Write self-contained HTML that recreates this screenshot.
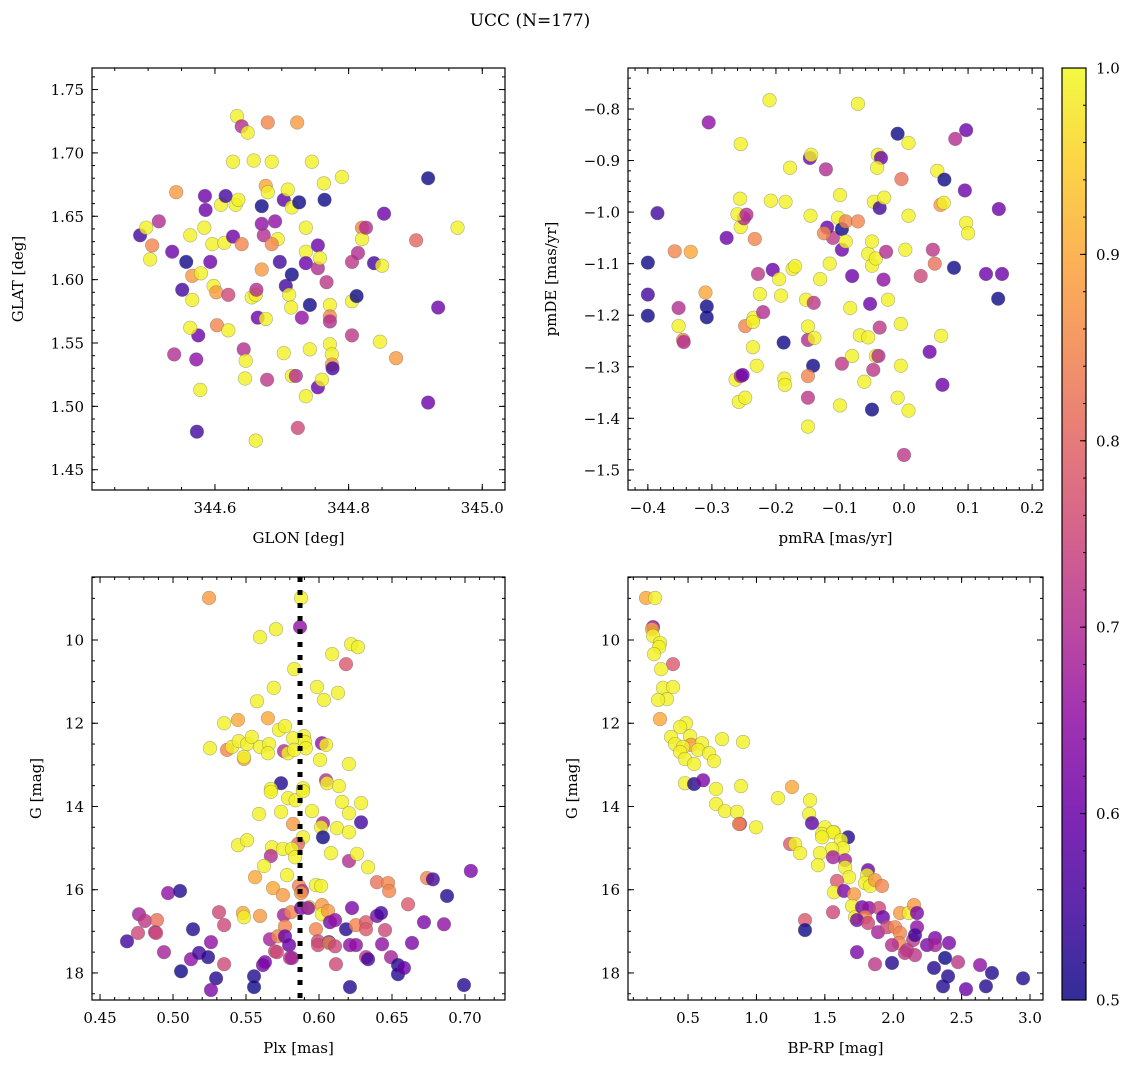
<!DOCTYPE html>
<html><head><meta charset="utf-8">
<style>
html,body{margin:0;padding:0;background:#fff;}
svg{display:block;font-family:"DejaVu Serif","Liberation Serif",serif;}
</style></head>
<body>
<svg id="fig" width="1136" height="1067" viewBox="0 0 1136 1067" xmlns="http://www.w3.org/2000/svg">
<text x="530" y="26" text-anchor="middle" font-size="17">UCC (N=177)</text>
</svg>
<script>
// ---- data: [x, y, membership probability] ----
const skyPoints = [
[344.633,1.729,0.99],[344.640,1.721,0.7],[344.649,1.716,0.99],[344.679,1.724,0.85],[344.723,1.724,0.88],
[344.627,1.693,0.99],[344.658,1.694,0.99],[344.685,1.693,0.99],[344.745,1.693,0.99],
[344.488,1.635,0.55],[344.497,1.641,0.99],[344.506,1.627,0.85],[344.503,1.616,0.99],[344.516,1.646,0.7],
[344.542,1.669,0.88],[344.536,1.622,0.6],[344.551,1.592,0.55],[344.557,1.614,0.5],[344.566,1.584,0.99],
[344.563,1.635,0.99],[344.566,1.603,0.88],[344.579,1.605,0.99],[344.575,1.556,0.6],[344.572,1.537,0.65],
[344.573,1.480,0.55],[344.578,1.513,0.99],[344.539,1.541,0.7],[344.563,1.562,0.99],[344.585,1.666,0.6],
[344.586,1.655,0.6],[344.584,1.641,0.99],[344.596,1.628,0.99],[344.593,1.614,0.6],[344.598,1.595,0.99],
[344.602,1.590,0.88],[344.620,1.588,0.75],[344.603,1.564,0.85],[344.620,1.560,0.99],[344.609,1.659,0.99],
[344.614,1.629,0.99],[344.627,1.634,0.6],[344.640,1.628,0.85],[344.616,1.666,0.55],[344.631,1.659,0.99],
[344.635,1.663,0.99],[344.643,1.545,0.7],[344.646,1.536,0.99],[344.645,1.522,0.99],[344.655,1.586,0.99],
[344.661,1.588,0.99],[344.662,1.592,0.7],[344.664,1.570,0.6],[344.661,1.473,0.99],[344.678,1.521,0.72],
[344.670,1.658,0.5],[344.670,1.644,0.65],[344.676,1.674,0.9],[344.679,1.669,0.99],[344.673,1.635,0.7],
[344.670,1.608,0.88],[344.676,1.569,0.99],[344.690,1.646,0.65],[344.694,1.632,0.99],[344.685,1.628,0.85],
[344.697,1.614,0.55],[344.703,1.663,0.58],[344.709,1.671,0.99],[344.715,1.657,0.99],[344.706,1.595,0.55],
[344.715,1.604,0.5],[344.711,1.588,0.99],[344.714,1.578,0.99],[344.703,1.542,0.99],[344.715,1.524,0.99],
[344.721,1.524,0.7],[344.726,1.661,0.5],[344.736,1.641,0.99],[344.736,1.622,0.99],[344.736,1.613,0.6],
[344.730,1.570,0.65],[344.742,1.545,0.99],[344.736,1.508,0.99],[344.724,1.483,0.75],[344.754,1.627,0.6],
[344.754,1.609,0.7],[344.757,1.617,0.99],[344.763,1.676,0.99],[344.764,1.663,0.5],[344.754,1.515,0.6],
[344.760,1.521,0.99],[344.767,1.598,0.72],[344.742,1.580,0.5],[344.772,1.580,0.99],[344.772,1.571,0.85],
[344.772,1.567,0.7],[344.772,1.549,0.99],[344.775,1.541,0.99],[344.775,1.533,0.88],[344.776,1.530,0.55],
[344.805,1.614,0.72],[344.805,1.583,0.99],[344.812,1.587,0.5],[344.805,1.556,0.72],[344.790,1.681,0.99],
[344.820,1.641,0.85],[344.820,1.632,0.99],[344.814,1.621,0.7],[344.826,1.641,0.7],[344.838,1.613,0.55],
[344.853,1.652,0.6],[344.850,1.611,0.99],[344.847,1.551,0.99],[344.871,1.538,0.88],[344.901,1.631,0.8],
[344.919,1.680,0.5],[344.919,1.503,0.6],[344.934,1.578,0.6],[344.963,1.641,0.99]
];
const pmPoints = [
[-0.400,-1.160,0.55],[-0.358,-1.076,0.85],[-0.400,-1.098,0.5],[-0.400,-1.201,0.5],[-0.385,-1.002,0.55],
[-0.333,-1.077,0.9],[-0.352,-1.186,0.7],[-0.352,-1.221,0.99],[-0.345,-1.248,0.85],[-0.344,-1.252,0.7],
[-0.310,-1.156,0.9],[-0.305,-0.826,0.65],[-0.308,-1.183,0.5],[-0.308,-1.204,0.5],[-0.277,-1.050,0.6],
[-0.255,-1.029,0.99],[-0.256,-0.974,0.99],[-0.250,-1.012,0.7],[-0.255,-0.868,0.99],[-0.260,-1.004,0.99],
[-0.225,-1.159,0.99],[-0.263,-1.325,0.99],[-0.258,-1.368,0.99],[-0.248,-1.360,0.99],[-0.255,-1.318,0.7],
[-0.252,-1.316,0.6],[-0.235,-1.205,0.99],[-0.246,-1.005,0.7],[-0.228,-1.120,0.72],[-0.233,-1.052,0.85],
[-0.248,-1.221,0.85],[-0.236,-1.213,0.99],[-0.236,-1.262,0.99],[-0.230,-1.298,0.99],[-0.220,-1.194,0.7],
[-0.205,-1.112,0.6],[-0.210,-0.783,0.99],[-0.208,-0.978,0.99],[-0.185,-0.980,0.99],[-0.188,-1.253,0.5],
[-0.192,-1.162,0.99],[-0.178,-0.914,0.99],[-0.195,-1.130,0.99],[-0.153,-1.170,0.99],[-0.150,-1.248,0.7],
[-0.142,-1.298,0.5],[-0.187,-1.323,0.99],[-0.186,-1.335,0.99],[-0.150,-1.360,0.72],[-0.174,-1.110,0.99],
[-0.170,-1.105,0.99],[-0.141,-1.176,0.72],[-0.131,-1.130,0.99],[-0.150,-1.222,0.99],[-0.140,-1.244,0.99],
[-0.147,-0.895,0.6],[-0.145,-0.889,0.99],[-0.122,-0.917,0.7],[-0.146,-1.007,0.99],[-0.150,-1.318,0.85],
[-0.150,-1.416,0.99],[-0.116,-1.100,0.99],[-0.111,-1.050,0.72],[-0.120,-1.030,0.6],[-0.103,-1.011,0.99],
[-0.097,-1.033,0.5],[-0.097,-1.073,0.6],[-0.091,-1.057,0.99],[-0.091,-1.018,0.85],[-0.125,-1.041,0.85],
[-0.097,-1.294,0.72],[-0.081,-1.124,0.6],[-0.081,-1.279,0.99],[-0.084,-1.186,0.99],[-0.100,-0.967,0.99],
[-0.072,-1.018,0.85],[-0.100,-1.375,0.99],[-0.069,-1.239,0.99],[-0.056,-1.243,0.99],[-0.062,-1.329,0.99],
[-0.053,-1.178,0.6],[-0.048,-1.306,0.72],[-0.044,-1.279,0.99],[-0.072,-0.790,0.99],[-0.056,-1.081,0.99],
[-0.050,-1.104,0.99],[-0.044,-1.090,0.99],[-0.047,-0.980,0.99],[-0.038,-0.992,0.55],[-0.031,-0.972,0.99],
[-0.050,-1.383,0.5],[-0.041,-0.889,0.99],[-0.036,-0.895,0.6],[-0.042,-0.914,0.99],[-0.028,-1.077,0.7],
[-0.032,-1.131,0.65],[-0.038,-1.224,0.72],[-0.040,-1.279,0.7],[-0.050,-1.057,0.99],[-0.025,-1.170,0.99],
[-0.010,-0.848,0.5],[-0.010,-1.360,0.99],[-0.005,-1.298,0.99],[-0.004,-0.936,0.82],[-0.005,-1.217,0.99],
[0.000,-1.471,0.72],[0.007,-0.866,0.99],[0.007,-1.007,0.99],[0.002,-1.073,0.99],[0.007,-1.385,0.99],
[0.026,-1.124,0.75],[0.040,-1.271,0.6],[0.045,-1.073,0.72],[0.048,-1.100,0.82],[0.052,-0.920,0.99],
[0.057,-0.986,0.88],[0.058,-1.240,0.99],[0.062,-0.982,0.99],[0.060,-1.335,0.6],[0.063,-0.937,0.5],
[0.080,-0.858,0.7],[0.078,-1.108,0.5],[0.097,-0.841,0.6],[0.095,-0.958,0.6],[0.097,-1.021,0.99],
[0.100,-1.041,0.99],[0.128,-1.120,0.6],[0.153,-1.120,0.6],[0.147,-1.168,0.5],[0.148,-0.994,0.6]
];
const plxPoints = [
[0.5247,8.99,0.88],[0.5877,8.99,0.99],[0.587,9.69,0.65],[0.5596,9.93,0.99],[0.5705,9.74,0.99],
[0.622,10.10,0.99],[0.6267,10.17,0.99],[0.609,10.34,0.99],[0.6185,10.58,0.78],[0.583,10.70,0.99],
[0.569,11.15,0.99],[0.5986,11.13,0.99],[0.6034,11.44,0.99],[0.613,11.27,0.99],[0.5575,11.47,0.99],
[0.535,12.0,0.99],[0.5445,11.92,0.9],[0.565,11.88,0.9],[0.5726,12.16,0.99],[0.5767,12.07,0.99],
[0.5253,12.60,0.99],[0.537,12.64,0.85],[0.5404,12.57,0.99],[0.545,12.43,0.99],[0.5507,12.50,0.99],
[0.554,12.33,0.99],[0.5596,12.57,0.99],[0.5658,12.50,0.99],[0.565,12.72,0.99],[0.5486,12.86,0.9],
[0.5486,12.81,0.99],[0.576,12.67,0.7],[0.5788,12.72,0.99],[0.5822,12.36,0.99],[0.5897,12.31,0.99],
[0.5904,12.45,0.99],[0.591,12.60,0.99],[0.583,12.64,0.99],[0.602,12.48,0.65],[0.6048,12.52,0.99],
[0.6007,12.88,0.99],[0.6205,12.98,0.99],[0.574,13.44,0.52],[0.6048,13.37,0.7],[0.6055,13.44,0.99],
[0.6137,13.51,0.99],[0.567,13.58,0.99],[0.589,13.56,0.99],[0.567,13.65,0.99],[0.5788,13.80,0.99],
[0.584,13.85,0.99],[0.589,13.63,0.99],[0.6158,13.89,0.99],[0.6288,13.92,0.99],[0.5589,14.18,0.99],
[0.574,14.13,0.99],[0.5952,14.11,0.99],[0.6205,14.16,0.99],[0.5822,14.42,0.88],[0.6027,14.40,0.68],
[0.6014,14.50,0.99],[0.6288,14.38,0.55],[0.6123,14.52,0.99],[0.6205,14.62,0.99],[0.6027,14.74,0.5],
[0.589,14.74,0.99],[0.5445,14.93,0.99],[0.5507,14.81,0.99],[0.5856,14.90,0.8],[0.5678,14.98,0.99],
[0.5753,15.02,0.99],[0.5815,15.02,0.99],[0.567,15.19,0.7],[0.5836,15.22,0.99],[0.6082,15.12,0.99],
[0.6205,15.31,0.7],[0.626,15.14,0.99],[0.5623,15.43,0.99],[0.6336,15.46,0.99],[0.5781,15.65,0.99],
[0.5562,15.70,0.9],[0.5979,15.89,0.99],[0.6014,15.91,0.99],[0.5685,15.96,0.9],[0.5863,15.91,0.85],
[0.5884,16.03,0.7],[0.5877,16.08,0.88],[0.5753,16.13,0.88],[0.6397,15.82,0.82],[0.6473,15.84,0.85],
[0.648,16.03,0.85],[0.674,15.72,0.85],[0.678,15.75,0.55],[0.704,15.55,0.62],[0.6877,16.15,0.52],
[0.661,16.35,0.78],[0.4966,16.08,0.65],[0.5048,16.03,0.52],[0.4767,16.59,0.68],[0.4808,16.75,0.72],
[0.489,16.73,0.82],[0.476,17.04,0.75],[0.4877,17.02,0.7],[0.4884,17.04,0.75],[0.4685,17.24,0.55],
[0.4938,17.5,0.68],[0.5137,16.95,0.52],[0.526,17.26,0.65],[0.5123,17.67,0.65],[0.5178,17.52,0.55],
[0.524,17.62,0.52],[0.5055,17.96,0.5],[0.5295,18.13,0.52],[0.526,18.41,0.62],[0.5315,16.54,0.75],
[0.535,16.85,0.75],[0.535,17.79,0.75],[0.5479,16.56,0.9],[0.5486,16.66,0.99],[0.5596,16.63,0.88],
[0.5555,18.08,0.52],[0.5555,18.34,0.5],[0.5616,17.81,0.62],[0.563,17.74,0.62],[0.5664,17.19,0.68],
[0.5699,17.48,0.75],[0.5712,17.5,0.75],[0.5719,17.12,0.85],[0.576,16.61,0.68],[0.5767,16.88,0.85],
[0.5767,17.12,0.6],[0.5795,17.33,0.6],[0.5808,16.54,0.85],[0.5801,17.64,0.72],[0.5815,17.64,0.68],
[0.5877,16.44,0.62],[0.5932,16.42,0.99],[0.5925,16.44,0.65],[0.602,16.37,0.88],[0.602,16.59,0.99],
[0.6062,16.51,0.88],[0.6075,16.78,0.62],[0.611,16.73,0.65],[0.5979,16.95,0.85],[0.5993,17.24,0.75],
[0.5993,17.33,0.75],[0.6068,17.26,0.52],[0.6068,17.28,0.85],[0.611,17.36,0.75],[0.6116,17.79,0.75],
[0.6185,16.95,0.52],[0.6212,18.34,0.52],[0.6226,16.44,0.62],[0.6212,17.33,0.65],[0.6253,17.33,0.65],
[0.6253,16.85,0.85],[0.6322,16.78,0.78],[0.6322,16.95,0.78],[0.6322,17.62,0.72],[0.6336,17.67,0.55],
[0.6397,16.63,0.62],[0.6425,16.56,0.55],[0.6432,17.31,0.65],[0.6452,16.97,0.75],[0.6493,17.62,0.68],
[0.6541,17.81,0.52],[0.6541,18.03,0.52],[0.6582,17.88,0.6],[0.6637,17.28,0.62],[0.6719,16.78,0.62],
[0.6856,16.83,0.65],[0.6993,18.29,0.52]
];
const cmdPoints = [
[0.193,8.99,0.9],[0.259,8.99,0.99],[0.244,9.69,0.65],[0.237,9.74,0.9],[0.244,9.90,0.99],
[0.295,10.07,0.99],[0.288,10.17,0.99],[0.251,10.34,0.99],[0.390,10.58,0.78],[0.303,10.70,0.99],
[0.317,11.15,0.99],[0.390,11.13,0.99],[0.346,11.42,0.99],[0.281,11.44,0.99],[0.295,11.90,0.9],
[0.485,12.0,0.99],[0.442,12.09,0.99],[0.376,12.33,0.99],[0.515,12.31,0.99],[0.405,12.50,0.99],
[0.522,12.52,0.88],[0.602,12.48,0.99],[0.573,12.64,0.99],[0.463,12.57,0.99],[0.442,12.69,0.99],
[0.478,12.86,0.99],[0.654,12.72,0.99],[0.690,12.91,0.99],[0.544,12.98,0.99],[0.749,12.38,0.99],
[0.902,12.45,0.99],[0.478,13.44,0.99],[0.544,13.46,0.52],[0.610,13.37,0.62],[0.705,13.58,0.99],
[0.887,13.51,0.99],[1.260,13.53,0.9],[1.158,13.80,0.99],[1.392,13.85,0.99],[0.705,13.94,0.99],
[0.770,14.11,0.99],[0.858,14.13,0.99],[0.880,14.42,0.72],[0.873,14.42,0.85],[0.997,14.50,0.99],
[1.385,14.18,0.99],[1.406,14.40,0.58],[1.501,14.50,0.99],[1.567,14.62,0.99],[1.480,14.66,0.99],
[1.560,14.62,0.99],[1.480,14.74,0.99],[1.670,14.74,0.52],[1.618,14.81,0.99],[1.633,15.0,0.99],
[1.553,15.02,0.99],[1.246,14.90,0.78],[1.282,14.90,0.99],[1.319,15.12,0.99],[1.465,15.12,0.99],
[1.450,15.41,0.99],[1.560,15.22,0.68],[1.648,15.29,0.68],[1.648,15.46,0.99],[1.677,15.70,0.99],
[1.816,15.53,0.6],[1.589,15.79,0.78],[1.809,15.65,0.99],[1.794,15.84,0.99],[1.831,15.91,0.99],
[1.867,15.77,0.88],[1.918,15.91,0.85],[1.567,16.06,0.99],[1.640,16.03,0.62],[1.713,16.11,0.88],
[1.699,16.39,0.99],[1.721,16.66,0.99],[1.772,16.42,0.62],[1.823,16.44,0.65],[1.896,16.44,0.75],
[1.794,16.66,0.85],[1.735,16.73,0.62],[1.816,16.80,0.75],[1.925,16.66,0.6],[1.889,17.02,0.68],
[1.955,16.90,0.75],[1.560,16.54,0.75],[1.355,16.73,0.78],[1.355,16.97,0.5],[2.013,16.90,0.85],
[2.050,16.56,0.88],[2.115,16.56,0.99],[2.152,16.37,0.88],[2.174,16.56,0.62],[2.050,17.04,0.85],
[2.042,17.28,0.85],[1.991,17.33,0.7],[2.145,17.21,0.72],[2.174,16.90,0.65],[2.159,17.09,0.55],
[2.101,17.45,0.72],[2.159,17.57,0.72],[2.247,17.33,0.62],[2.306,17.16,0.62],[2.306,17.33,0.68],
[2.408,17.28,0.62],[2.379,17.64,0.5],[2.298,17.88,0.52],[2.474,17.74,0.72],[2.401,18.08,0.52],
[2.364,18.32,0.52],[2.532,18.39,0.6],[2.635,17.81,0.65],[2.678,18.32,0.52],[2.722,18.0,0.52],
[2.949,18.13,0.52],[1.735,17.50,0.62],[1.867,17.79,0.72],[1.991,17.76,0.52],[2.086,17.52,0.72]
];
const plxLine = 0.587;
const cbTicks = [0.5,0.6,0.7,0.8,0.9,1.0];

const NS = "http://www.w3.org/2000/svg";
const svg = document.getElementById('fig');
function mk(tag, attrs, parent){ const e=document.createElementNS(NS,tag); for(const k in attrs) e.setAttribute(k,attrs[k]); (parent||svg).appendChild(e); return e; }

const plasma = ["#0d0887","#41049d","#6a00a8","#8f0da4","#b12a90","#cc4778","#e16462","#f2844b","#fca636","#fcce25","#f0f921"];
function hex(h){return [parseInt(h.substr(1,2),16),parseInt(h.substr(3,2),16),parseInt(h.substr(5,2),16)];}
function cmap(t){ t=Math.max(0,Math.min(1,t)); const f=t*10, i=Math.min(9,Math.floor(f)), r=f-i; const a=hex(plasma[i]), b=hex(plasma[i+1]); return 'rgb('+a.map((v,k)=>Math.round(v+(b[k]-v)*r)).join(',')+')'; }
const VMIN=0.5, VMAX=1.0;
function colorOf(c){ return cmap((c-VMIN)/(VMAX-VMIN)); }

const FS = 15;
function panel(cfg){
  const {name,L,R,T,B,xmin,xmax,ymin,ymax,invertY,xMajor,xMinor,yMajor,yMinor,xDec,yDec,xlabel,ylabel,points} = cfg;
  const g = mk('g',{});
  
  
  const sx = v => L + (v-xmin)/(xmax-xmin)*(R-L);
  const sy = v => invertY ? T + (v-ymin)/(ymax-ymin)*(B-T) : B - (v-ymin)/(ymax-ymin)*(B-T);
  const cid = 'clip-'+name;
  const cp = mk('clipPath',{id:cid},g); mk('rect',{x:L,y:T,width:R-L,height:B-T},cp);
  const pg = mk('g',{'clip-path':'url(#'+cid+')'},g);
  
  
  points.forEach(p=>{
    const c = mk('circle',{cx:sx(p[0]),cy:sy(p[1]),r:6.8,fill:colorOf(p[2]),'fill-opacity':0.8,stroke:'rgba(90,90,90,0.45)','stroke-width':0.6},pg);
    
    
  });
  if (cfg.vline!==undefined){
    const ln = mk('line',{x1:sx(cfg.vline),x2:sx(cfg.vline),y1:T,y2:B,stroke:'#000','stroke-width':5,'stroke-dasharray':'5 8'},g);
    
    
  }
  mk('rect',{x:L,y:T,width:R-L,height:B-T,fill:'none',stroke:'#000','stroke-width':1.2},g);
  const tk = mk('g',{stroke:'#000','stroke-width':1},g);
  const eps=1e-9;
  function ticks(min,max,step){ const a=[]; let v=Math.ceil(min/step-eps)*step; for(;v<=max+eps;v+=step) a.push(+v.toFixed(6)); return a; }
  ticks(xmin,xmax,xMinor).forEach(v=>{ const x=sx(v); mk('line',{x1:x,x2:x,y1:B,y2:B-3},tk); mk('line',{x1:x,x2:x,y1:T,y2:T+3},tk); });
  ticks(ymin,ymax,yMinor).forEach(v=>{ const y=sy(v); mk('line',{x1:L,x2:L+3,y1:y,y2:y},tk); mk('line',{x1:R,x2:R-3,y1:y,y2:y},tk); });
  ticks(xmin,xmax,xMajor).forEach(v=>{ const x=sx(v); mk('line',{x1:x,x2:x,y1:B,y2:B-6},tk); mk('line',{x1:x,x2:x,y1:T,y2:T+6},tk);
    const t=mk('text',{x:x,y:B+23,'text-anchor':'middle','font-size':FS},g); t.textContent=v.toFixed(xDec).replace('-','\u2212');
      });
  ticks(ymin,ymax,yMajor).forEach(v=>{ const y=sy(v); mk('line',{x1:L,x2:L+6,y1:y,y2:y},tk); mk('line',{x1:R,x2:R-6,y1:y,y2:y},tk);
    const t=mk('text',{x:L-8,y:y+5.5,'text-anchor':'end','font-size':FS},g); t.textContent=v.toFixed(yDec).replace('-','\u2212');
      });
  const xl=mk('text',{x:(L+R)/2,y:B+53,'text-anchor':'middle','font-size':FS},g); xl.textContent=xlabel;
   
  const yx=cfg.ylabelX, yy=(T+B)/2;
  const yl=mk('text',{x:yx,y:yy,'text-anchor':'middle','font-size':FS,transform:'rotate(-90 '+yx+' '+yy+')'},g); yl.textContent=ylabel;
   
}

panel({name:'sky-panel',L:92,R:505,T:68,B:490,xmin:344.416,xmax:345.034,ymin:1.434,ymax:1.767,xMajor:0.2,xMinor:0.05,yMajor:0.05,yMinor:0.01,xDec:1,yDec:2,xlabel:'GLON [deg]',ylabel:'GLAT [deg]',ylabelX:23,points:skyPoints});
panel({name:'pm-panel',L:628,R:1043,T:68,B:490,xmin:-0.431,xmax:0.217,ymin:-1.539,ymax:-0.7205,xMajor:0.1,xMinor:0.02,yMajor:0.1,yMinor:0.02,xDec:1,yDec:1,xlabel:'pmRA [mas/yr]',ylabel:'pmDE [mas/yr]',ylabelX:556,points:pmPoints});
panel({name:'plx-panel',L:92,R:505,T:577,B:1000,xmin:0.4445,xmax:0.7274,ymin:8.486,ymax:18.65,invertY:true,xMajor:0.05,xMinor:0.01,yMajor:2,yMinor:0.5,xDec:2,yDec:0,xlabel:'Plx [mas]',ylabel:'G [mag]',ylabelX:41,vline:plxLine,points:plxPoints});
panel({name:'cmd-panel',L:628,R:1043,T:577,B:1000,xmin:0.061,xmax:3.095,ymin:8.486,ymax:18.65,invertY:true,xMajor:0.5,xMinor:0.1,yMajor:2,yMinor:0.5,xDec:1,yDec:0,xlabel:'BP-RP [mag]',ylabel:'G [mag]',ylabelX:577,points:cmdPoints});

// colorbar
const cb = mk('g',{});


const defs = mk('defs',{},cb);
const lg = mk('linearGradient',{id:'cbgrad',x1:0,y1:1,x2:0,y2:0},defs);
plasma.forEach((c,i)=>mk('stop',{offset:(i/10),'stop-color':c,'stop-opacity':0.85},lg));
const CL=1062, CR=1086, CT=68, CB=1000;
mk('rect',{x:CL,y:CT,width:CR-CL,height:CB-CT,fill:'url(#cbgrad)'},cb);
mk('rect',{x:CL,y:CT,width:CR-CL,height:CB-CT,fill:'none',stroke:'#000','stroke-width':1.2},cb);
const cy = v => CB - (v-VMIN)/(VMAX-VMIN)*(CB-CT);
for(let v=VMIN; v<=VMAX+1e-9; v+=0.02){ mk('line',{x1:CR,x2:CR-3,y1:cy(v),y2:cy(v),stroke:'#000'},cb); }
cbTicks.forEach(v=>{
  mk('line',{x1:CR,x2:CR-6,y1:cy(v),y2:cy(v),stroke:'#000'},cb);
  const t=mk('text',{x:CR+10,y:cy(v)+5.5,'font-size':FS},cb); t.textContent=v.toFixed(1);
   
});
</script>
</body></html>
